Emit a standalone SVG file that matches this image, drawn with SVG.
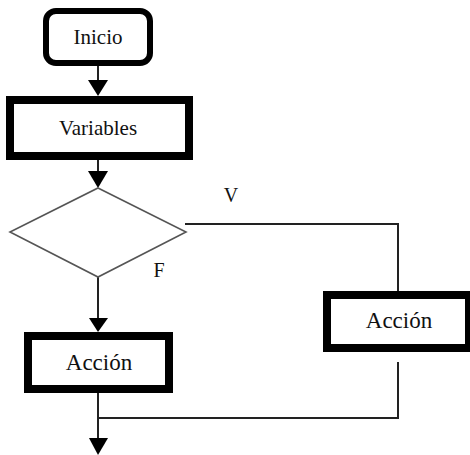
<svg xmlns="http://www.w3.org/2000/svg" width="470" height="455" viewBox="0 0 470 455">
<style>
.box{fill:#fff;stroke:#000;stroke-width:8}
.start{fill:#fff;stroke:#000;stroke-width:6}
.dec{fill:#fff;stroke:#555;stroke-width:1.6}
.conn{fill:none;stroke:#222;stroke-width:2}
.head{fill:#000}
.t{font-family:'Times New Roman',Tinos,'Liberation Serif','Noto Serif','DejaVu Serif',serif;fill:#111;text-anchor:middle}
</style>
<rect width="470" height="455" fill="#fff"/>
<g id="connectors">
<line class="conn" x1="98" y1="65" x2="98" y2="81"/>
<polygon class="head" points="88,80 108,80 98,96"/>
<line class="conn" x1="98" y1="160" x2="98" y2="172"/>
<polygon class="head" points="88,171 108,171 98,188"/>
<line class="conn" x1="98" y1="277" x2="98" y2="319"/>
<polygon class="head" points="89,318 108,318 98,332"/>
<polyline class="conn" points="185,224 398,224 398,291"/>
<polyline class="conn" points="398,362 398,418 98,418"/>
<line class="conn" x1="98" y1="393" x2="98" y2="439"/>
<polygon class="head" points="89,438 108,438 98,455"/>
</g>
<g id="inicio">
<rect class="start" x="46" y="11" width="104" height="52" rx="10"/>
<text class="t" x="98" y="44" font-size="21">Inicio</text>
</g>
<g id="variables">
<rect class="box" x="10" y="100" width="179" height="56"/>
<text class="t" x="98" y="135" font-size="21">Variables</text>
</g>
<g id="decision">
<polygon class="dec" points="98,188 186,232 98,277 10,232"/>
<text class="t" x="231" y="202" font-size="20">V</text>
<text class="t" x="159" y="277" font-size="20">F</text>
</g>
<g id="accion-right">
<rect class="box" x="327" y="295" width="142" height="53"/>
<text class="t" x="399" y="328" font-size="23">Acción</text>
</g>
<g id="accion-left">
<rect class="box" x="28" y="336" width="141" height="53"/>
<text class="t" x="99" y="370" font-size="23">Acción</text>
</g>
</svg>
